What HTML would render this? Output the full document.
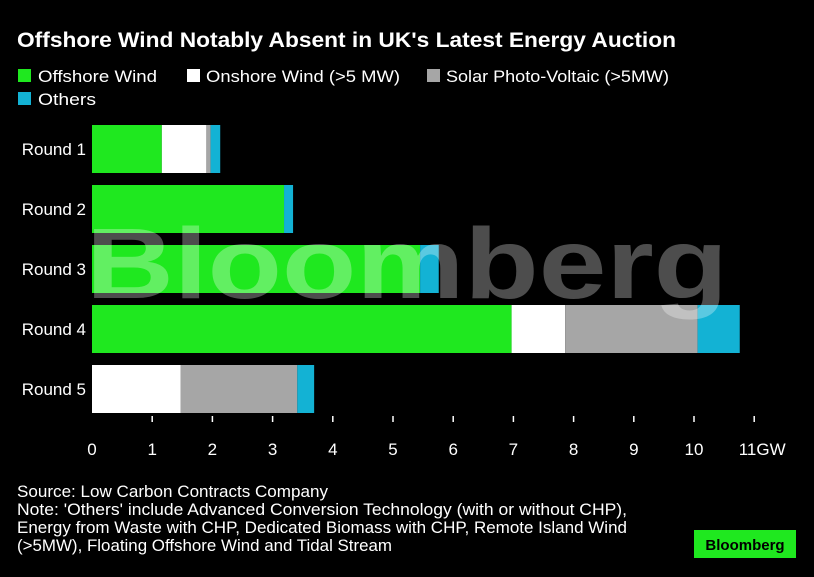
<!DOCTYPE html>
<html><head><meta charset="utf-8"><style>
body{margin:0;background:#000;width:814px;height:572px;overflow:hidden;font-family:"Liberation Sans",sans-serif;color:#fff}
</style></head><body>
<svg width="814" height="572" xmlns="http://www.w3.org/2000/svg" font-family="Liberation Sans, sans-serif">
<text x="17" y="47" font-size="21" font-weight="bold" fill="#fff" textLength="659" lengthAdjust="spacingAndGlyphs">Offshore Wind Notably Absent in UK's Latest Energy Auction</text>
<g font-size="17" fill="#fff">
<rect x="18" y="69" width="13" height="13" fill="#1fe81f"/><text x="38" y="82" textLength="119" lengthAdjust="spacingAndGlyphs">Offshore Wind</text>
<rect x="187" y="69" width="13" height="13" fill="#fff"/><text x="206" y="82" textLength="194" lengthAdjust="spacingAndGlyphs">Onshore Wind (&gt;5 MW)</text>
<rect x="427" y="69" width="13" height="13" fill="#a6a6a6"/><text x="446" y="82" textLength="223" lengthAdjust="spacingAndGlyphs">Solar Photo-Voltaic (&gt;5MW)</text>
<rect x="18" y="92" width="13" height="13" fill="#13b2d4"/><text x="38" y="105" textLength="58" lengthAdjust="spacingAndGlyphs">Others</text>
</g>
<g id="plot"></g>
<text x="86" y="298" font-size="100" font-weight="bold" fill="#fff" fill-opacity="0.3" textLength="642" lengthAdjust="spacingAndGlyphs">Bloomberg</text>
<g font-size="16.5" fill="#fff">
<text x="17" y="497" textLength="311" lengthAdjust="spacingAndGlyphs">Source: Low Carbon Contracts Company</text>
<text x="17" y="515" textLength="610" lengthAdjust="spacingAndGlyphs">Note: 'Others' include Advanced Conversion Technology (with or without CHP),</text>
<text x="17" y="533" textLength="610" lengthAdjust="spacingAndGlyphs">Energy from Waste with CHP, Dedicated Biomass with CHP, Remote Island Wind</text>
<text x="17" y="551" textLength="375" lengthAdjust="spacingAndGlyphs">(&gt;5MW), Floating Offshore Wind and Tidal Stream</text>
</g>
<rect x="694" y="530" width="102" height="28" fill="#1fe81f"/>
<text x="745" y="550" font-size="15" font-weight="bold" fill="#000" text-anchor="middle">Bloomberg</text>
</svg>
<script>
const categories=["Round 1","Round 2","Round 3","Round 4","Round 5"];
const offshore=[1.16,3.19,5.45,6.97,0];
const onshore=[0.74,0,0,0.89,1.47];
const solar=[0.07,0,0,2.2,1.94];
const others=[0.16,0.15,0.31,0.7,0.28];
const ticks=[0,1,2,3,4,5,6,7,8,9,10,11];
const tickLabels=["0","1","2","3","4","5","6","7","8","9","10","11GW"];
const NS="http://www.w3.org/2000/svg";
const g=document.getElementById('plot');
const x=v=>92+v*60.2;
const y=i=>125+i*60;
const series=[[offshore,"#1fe81f","offshore"],[onshore,"#fff","onshore"],[solar,"#a6a6a6","solar"],[others,"#13b2d4","others"]];
categories.forEach((c,i)=>{
 const t=document.createElementNS(NS,'text');
 t.setAttribute('x',86);t.setAttribute('y',y(i)+30);t.setAttribute('text-anchor','end');
 t.setAttribute('font-size','17');t.setAttribute('fill','#fff');t.textContent=c;
 
 
 g.appendChild(t);
 let acc=0;
 series.forEach(([arr,col,nm])=>{
  const v=arr[i]; if(v<=0)return;
  const r=document.createElementNS(NS,'rect');
  r.setAttribute('x',x(acc));r.setAttribute('y',y(i));r.setAttribute('width',x(acc+v)-x(acc));r.setAttribute('height',48);r.setAttribute('fill',col);
  
  
  g.appendChild(r);acc+=v;
 });
});
ticks.forEach((v,k)=>{
 if(v>0){const l=document.createElementNS(NS,'line');
 l.setAttribute('x1',x(v));l.setAttribute('x2',x(v));l.setAttribute('y1',416);l.setAttribute('y2',422);l.setAttribute('stroke','#fff');l.setAttribute('stroke-width','1.5');
 
 
 g.appendChild(l);}
 const t=document.createElementNS(NS,'text');
 t.setAttribute('x',v===11?x(v)+8:x(v));t.setAttribute('y',455);t.setAttribute('text-anchor','middle');
 t.setAttribute('font-size','17');t.setAttribute('fill','#fff');t.textContent=tickLabels[k];
 
 
 g.appendChild(t);
});
</script>
</body></html>
